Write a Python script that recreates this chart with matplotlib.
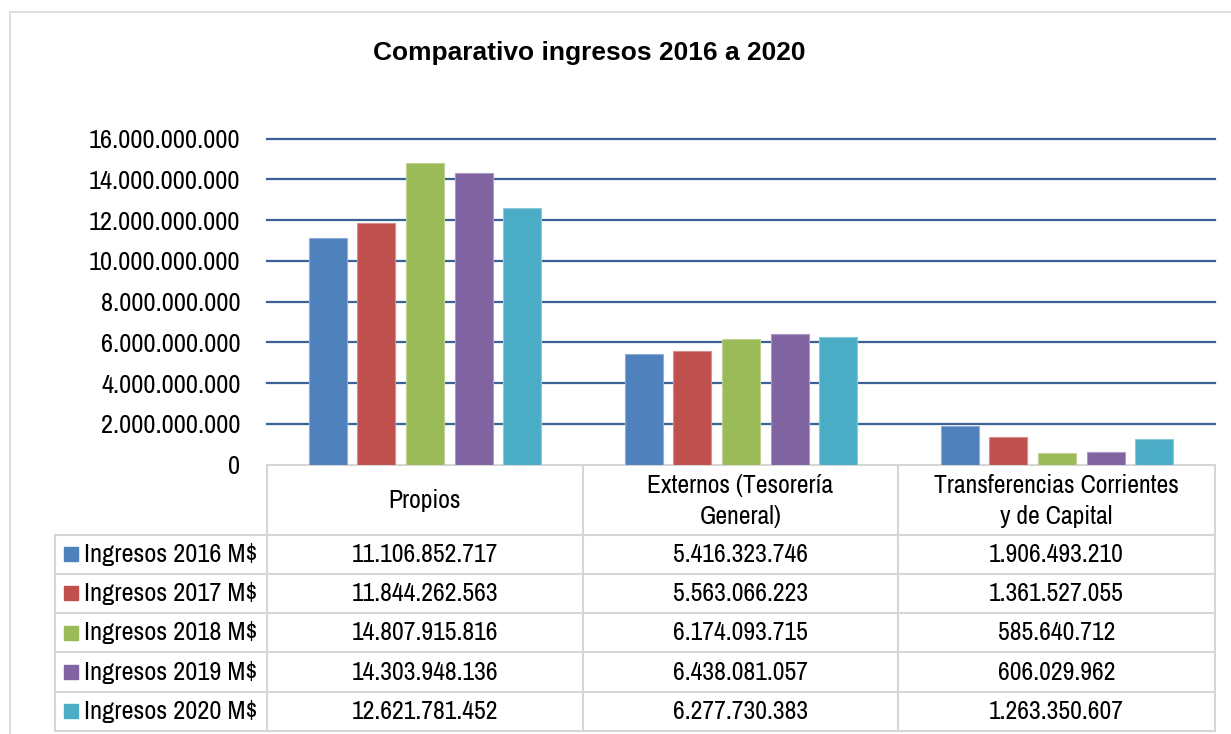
import numpy as np
import matplotlib.pyplot as plt
from matplotlib.patches import Rectangle
from matplotlib.colors import to_rgb


categories = ["Propios", "Externos (Tesorería\nGeneral)", "Transferencias Corrientes\ny de Capital"]
series = ["Ingresos 2016 M$", "Ingresos 2017 M$", "Ingresos 2018 M$",
          "Ingresos 2019 M$", "Ingresos 2020 M$"]

ingresos_2016 = [11106852717, 5416323746, 1906493210]
ingresos_2017 = [11844262563, 5563066223, 1361527055]
ingresos_2018 = [14807915816, 6174093715, 585640712]
ingresos_2019 = [14303948136, 6438081057, 606029962]
ingresos_2020 = [12621781452, 6277730383, 1263350607]
values = [ingresos_2016, ingresos_2017, ingresos_2018, ingresos_2019, ingresos_2020]

y_ticks = [0, 2e9, 4e9, 6e9, 8e9, 10e9, 12e9, 14e9, 16e9]

colors = ["#4F81BD", "#C0504D", "#9BBB59", "#8064A2", "#4BACC6"]
grid_color = "#3A6395"
table_color = "#D6D6D6"

# narrow face for ticks and table, Arial-like bold for the title
narrow = ["Archivo Narrow", "Liberation Sans", "DejaVu Sans"]
plt.rcParams['font.family'] = narrow

W, H = 1231, 734


def fmt(v):
    # Spanish style thousands separator
    return f"{v:,.0f}".replace(",", ".")


def lighter(c, f=0.35):
    r, g, b = to_rgb(c)
    return (r + (1 - r) * f, g + (1 - g) * f, b + (1 - b) * f)


fig = plt.figure(figsize=(W / 100, H / 100), dpi=100)

# overlay in pixel coordinates for the border, title and the data table
ov = fig.add_axes([0, 0, 1, 1])
ov.set_xlim(0, W)
ov.set_ylim(H, 0)
ov.axis("off")
ov.patch.set_alpha(0)

# plot area
x0, x1, yb, yt = 267, 1215, 464.7, 138.7
ax = fig.add_axes([x0 / W, 1 - yb / H, (x1 - x0) / W, (yb - yt) / H])
ax.patch.set_alpha(0)

x = np.arange(len(categories))
width = 0.12
step = 0.154
for i, (name, vals) in enumerate(zip(series, values)):
    ax.bar(x + (i - 2) * step, vals, width, color=colors[i],
           edgecolor=lighter(colors[i]), linewidth=0.8, zorder=3)

ax.set_xlim(-0.5, len(categories) - 0.5)
ax.set_ylim(0, 16e9)
ax.set_yticks(y_ticks)
ax.set_yticklabels([fmt(t) for t in y_ticks], fontsize=19)
ax.set_xticks([])
ax.tick_params(axis="y", length=0, pad=19)
for t in y_ticks[1:]:
    ax.axhline(t, color=grid_color, lw=1.6, zorder=1, clip_on=False)
for s in ax.spines.values():
    s.set_visible(False)

# chart border
ov.plot([10, W], [12, 12], color="#D9D9D9", lw=1.2)
ov.plot([10, 10], [12, H], color="#D9D9D9", lw=1.2)

ov.text(589, 53, "Comparativo ingresos 2016 a 2020", fontsize=19, fontweight="bold",
        ha="center", va="center", family=["Liberation Sans", "DejaVu Sans"])

# data table
col_x = [267, 582.7, 898.3, 1215]
row_y = [465, 534.5, 573.5, 613, 652.3, 691.8, 731]
leg_x = 55

ov.plot([col_x[0], col_x[-1]], [row_y[0], row_y[0]], color=table_color, lw=1.5)
for yy in row_y[1:]:
    ov.plot([leg_x, col_x[-1]], [yy, yy], color=table_color, lw=1.5)
for xx in col_x:
    ov.plot([xx, xx], [row_y[0], row_y[-1]], color=table_color, lw=1.5)
ov.plot([leg_x, leg_x], [row_y[1], row_y[-1]], color=table_color, lw=1.5)

for j, cat in enumerate(categories):
    cx = (col_x[j] + col_x[j + 1]) / 2
    ov.text(cx, (row_y[0] + row_y[1]) / 2 + 1, cat, fontsize=18.5, ha="center", va="center",
            linespacing=1.4)

for i, (name, vals) in enumerate(zip(series, values)):
    cy = (row_y[i + 1] + row_y[i + 2]) / 2
    ov.add_patch(Rectangle((64, cy - 7), 14, 14, color=colors[i]))
    ov.text(84, cy, name, fontsize=19, ha="left", va="center")
    for j, v in enumerate(vals):
        cx = (col_x[j] + col_x[j + 1]) / 2
        ov.text(cx, cy, fmt(v), fontsize=18.5, ha="center", va="center")

plt.savefig("out.png", dpi=100)
